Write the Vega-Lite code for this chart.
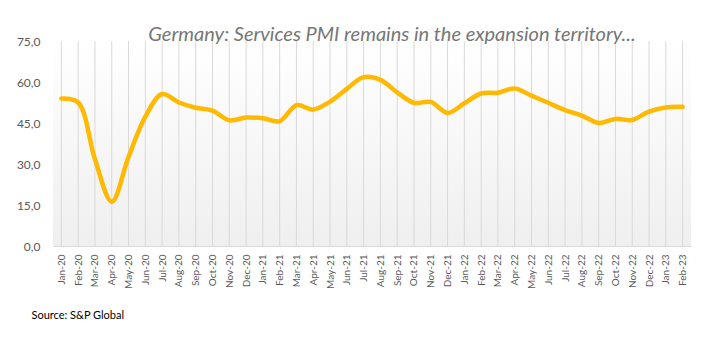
{
  "$schema": "https://vega.github.io/schema/vega-lite/v6.json",
  "autosize": {"type": "none"},
  "padding": {"left": 53, "top": 41, "right": 25, "bottom": 113},
  "width": 638,
  "height": 205,
  "background": "white",
  "config": {
    "font": "Lato",
    "view": {"stroke": null},
    "locale": {"number": {"decimal": ",", "thousands": ".", "grouping": [3], "currency": ["", " €"]}}
  },
  "title": {
    "text": "Germany: Services PMI remains in the expansion territory...",
    "font": "Lato",
    "fontSize": 20,
    "fontStyle": "italic",
    "fontWeight": "normal",
    "color": "#767676",
    "anchor": "middle",
    "frame": "group",
    "baseline": "alphabetic",
    "offset": 0,
    "dx": 20,
    "dy": 26
  },
  "data": {
    "values": [
      {"month": "Jan-20", "pmi": 54.0},
      {"month": "Feb-20", "pmi": 52.5},
      {"month": "Mar-20", "pmi": 31.7},
      {"month": "Apr-20", "pmi": 16.2},
      {"month": "May-20", "pmi": 32.6},
      {"month": "Jun-20", "pmi": 47.3},
      {"month": "Jul-20", "pmi": 55.6},
      {"month": "Aug-20", "pmi": 52.5},
      {"month": "Sep-20", "pmi": 50.6},
      {"month": "Oct-20", "pmi": 49.5},
      {"month": "Nov-20", "pmi": 46.0},
      {"month": "Dec-20", "pmi": 47.0},
      {"month": "Jan-21", "pmi": 46.7},
      {"month": "Feb-21", "pmi": 45.7},
      {"month": "Mar-21", "pmi": 51.5},
      {"month": "Apr-21", "pmi": 49.9},
      {"month": "May-21", "pmi": 52.8},
      {"month": "Jun-21", "pmi": 57.5},
      {"month": "Jul-21", "pmi": 61.8},
      {"month": "Aug-21", "pmi": 60.8},
      {"month": "Sep-21", "pmi": 56.2},
      {"month": "Oct-21", "pmi": 52.4},
      {"month": "Nov-21", "pmi": 52.7},
      {"month": "Dec-21", "pmi": 48.7},
      {"month": "Jan-22", "pmi": 52.2},
      {"month": "Feb-22", "pmi": 55.8},
      {"month": "Mar-22", "pmi": 56.1},
      {"month": "Apr-22", "pmi": 57.6},
      {"month": "May-22", "pmi": 55.0},
      {"month": "Jun-22", "pmi": 52.4},
      {"month": "Jul-22", "pmi": 49.7},
      {"month": "Aug-22", "pmi": 47.7},
      {"month": "Sep-22", "pmi": 45.0},
      {"month": "Oct-22", "pmi": 46.5},
      {"month": "Nov-22", "pmi": 46.1},
      {"month": "Dec-22", "pmi": 49.2},
      {"month": "Jan-23", "pmi": 50.7},
      {"month": "Feb-23", "pmi": 50.9}
    ]
  },
  "encoding": {
    "x": {
      "field": "month",
      "type": "ordinal",
      "sort": null,
      "scale": {"type": "point", "padding": 0.5},
      "axis": {
        "title": "Source: S&P Global",
        "titleAnchor": "start",
        "titleAlign": "left",
        "titleX": -22,
        "titleY": 72,
        "titleBaseline": "alphabetic",
        "titleFont": "Lato",
        "titleFontSize": 11,
        "titleFontWeight": "normal",
        "titleColor": "#000000",
        "labelAngle": -90,
        "labelAlign": "right",
        "labelBaseline": "middle",
        "labelFontSize": 10,
        "labelColor": "#595959",
        "labelPadding": 8,
        "labelOverlap": false,
        "ticks": false,
        "grid": false,
        "domainColor": "#d9d9d9",
        "domainWidth": 1
      }
    }
  },
  "layer": [
    {
      "mark": {
        "type": "rect",
        "color": {
          "gradient": "linear",
          "x1": 0, "y1": 0, "x2": 0, "y2": 1,
          "stops": [
            {"offset": 0, "color": "#ffffff"},
            {"offset": 1, "color": "#efefef"}
          ]
        }
      },
      "encoding": {
        "x": null,
        "y": {"datum": 75, "type": "quantitative", "scale": {"domain": [0, 75], "nice": false}},
        "y2": {"datum": 0}
      }
    },
    {
      "mark": {"type": "rule", "color": "#d9d9d9", "strokeWidth": 1},
      "encoding": {
        "y": {"datum": 75, "type": "quantitative"},
        "y2": {"datum": 0}
      }
    },
    {
      "mark": {"type": "line", "color": "#FFB900", "strokeWidth": 4.5, "interpolate": "catmull-rom", "strokeCap": "round"},
      "encoding": {
        "y": {
          "field": "pmi",
          "type": "quantitative",
          "scale": {"domain": [0, 75], "nice": false},
          "axis": {
            "title": null,
            "values": [0, 15, 30, 45, 60, 75],
            "format": ".1f",
            "grid": false,
            "domain": false,
            "ticks": false,
            "labelFontSize": 12,
            "labelColor": "#595959",
            "labelPadding": 13
          }
        }
      }
    }
  ]
}
